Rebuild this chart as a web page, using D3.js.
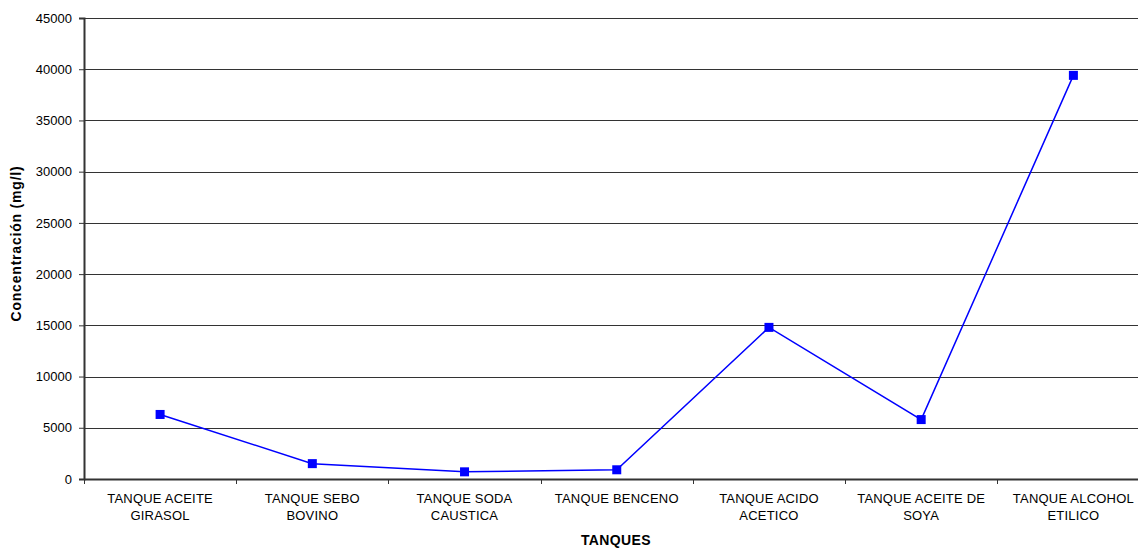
<!DOCTYPE html>
<html>
<head>
<meta charset="utf-8">
<script src="https://cdn.jsdelivr.net/npm/d3@7"></script>
<style>
  html, body { margin: 0; padding: 0; background: #fff; }
  svg { display: block; font-family: "Liberation Sans", Arial, sans-serif; }
</style>
</head>
<body>
<svg id="chart" width="1138" height="548"></svg>
<script>
// Concentración por tanque (mg/l)
const categories = [
  "TANQUE ACEITE GIRASOL",
  "TANQUE SEBO BOVINO",
  "TANQUE SODA CAUSTICA",
  "TANQUE BENCENO",
  "TANQUE ACIDO ACETICO",
  "TANQUE ACEITE DE SOYA",
  "TANQUE ALCOHOL ETILICO"
];
const labelLines = [
  ["TANQUE ACEITE", "GIRASOL"],
  ["TANQUE SEBO", "BOVINO"],
  ["TANQUE SODA", "CAUSTICA"],
  ["TANQUE BENCENO"],
  ["TANQUE ACIDO", "ACETICO"],
  ["TANQUE ACEITE DE", "SOYA"],
  ["TANQUE ALCOHOL", "ETILICO"]
];
const concentration = [6300, 1500, 700, 900, 14800, 5800, 39400];
const yTicks = [0, 5000, 10000, 15000, 20000, 25000, 30000, 35000, 40000, 45000];

const svg = d3.select("#chart");
const plotLeft = 84, plotTop = 18, plotBottom = 479, plotRight = 1149.5;

const x = d3.scaleBand().domain(categories).range([plotLeft, plotRight]).padding(0);
const y = d3.scaleLinear().domain([0, 45000]).range([plotBottom, plotTop]);

// horizontal gridlines
svg.append("g")
  .selectAll("line")
  .data(yTicks.filter(d => d > 0))
  .join("line")
  .attr("x1", plotLeft).attr("x2", plotRight)
  .attr("y1", d => Math.round(y(d)) + 0.5).attr("y2", d => Math.round(y(d)) + 0.5)
  .attr("stroke", "#333").attr("stroke-width", 1);

// y axis
const yAxis = svg.append("g")
  .attr("transform", `translate(${plotLeft},0)`)
  .call(d3.axisLeft(y).tickValues(yTicks).tickSize(5).tickPadding(7).tickFormat(d3.format("d")));
yAxis.select(".domain").attr("stroke", "#333").attr("stroke-width", 2);
yAxis.selectAll(".tick line").attr("stroke", "#333");
yAxis.selectAll(".tick text")
  .attr("font-size", 13).attr("fill", "#000")
  .attr("font-family", "Liberation Sans, Arial, sans-serif");

// x axis
const xAxis = svg.append("g")
  .attr("transform", `translate(0,${plotBottom})`)
  .call(d3.axisBottom(x).tickSize(0).tickFormat(""));
xAxis.select(".domain").attr("stroke", "#333").attr("stroke-width", 2);
xAxis.selectAll(".tick").remove();

// category boundary ticks
svg.append("g")
  .selectAll("line")
  .data(categories)
  .join("line")
  .attr("x1", d => Math.round(x(d)) + 0.5).attr("x2", d => Math.round(x(d)) + 0.5)
  .attr("y1", plotBottom).attr("y2", plotBottom + 5)
  .attr("stroke", "#333").attr("stroke-width", 1);

// category labels
const labels = svg.append("g")
  .selectAll("text")
  .data(categories)
  .join("text")
  .attr("text-anchor", "middle")
  .attr("font-size", 13)
  .attr("letter-spacing", 0.2)
  .attr("fill", "#000")
  .attr("x", d => x(d) + x.bandwidth() / 2)
  .attr("y", 503);
labels.each(function(d, i) {
  d3.select(this).selectAll("tspan")
    .data(labelLines[i])
    .join("tspan")
    .attr("x", x(d) + x.bandwidth() / 2)
    .attr("dy", (t, j) => j === 0 ? 0 : 17)
    .text(t => t);
});

// line series
const line = d3.line()
  .x((d, i) => x(categories[i]) + x.bandwidth() / 2)
  .y(d => y(d));
svg.append("path")
  .datum(concentration)
  .attr("d", line)
  .attr("fill", "none")
  .attr("stroke", "#0000FF")
  .attr("stroke-width", 1.5);

// markers
const m = 9;
svg.append("g")
  .selectAll("rect")
  .data(concentration)
  .join("rect")
  .attr("x", (d, i) => x(categories[i]) + x.bandwidth() / 2 - m / 2)
  .attr("y", d => y(d) - m / 2)
  .attr("width", m).attr("height", m)
  .attr("fill", "#0000FF");

// axis titles
svg.append("text")
  .attr("x", 616).attr("y", 545)
  .attr("text-anchor", "middle")
  .attr("font-size", 14).attr("font-weight", "bold")
  .attr("letter-spacing", 0.4)
  .text("TANQUES");
svg.append("text")
  .attr("transform", "translate(21,243.5) rotate(-90)")
  .attr("text-anchor", "middle")
  .attr("font-size", 14).attr("font-weight", "bold")
  .attr("letter-spacing", 0.8)
  .text("Concentración (mg/l)");
</script>
</body>
</html>
